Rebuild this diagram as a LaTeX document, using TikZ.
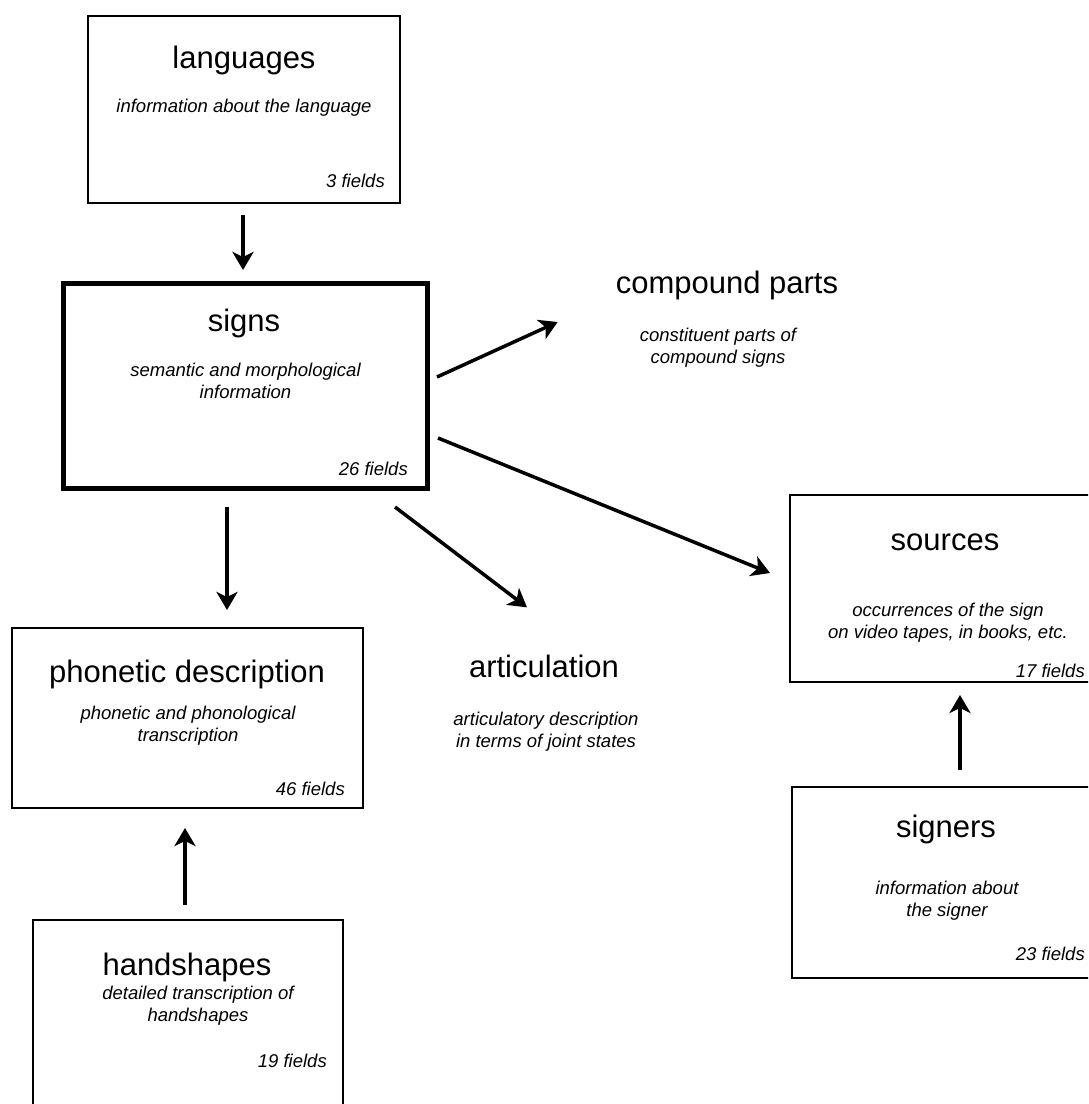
\documentclass[tikz,border=0pt]{standalone}
\usepackage{fontspec}
\setmainfont{Liberation Sans}
\usetikzlibrary{arrows.meta}
\usetikzlibrary{positioning}
\tikzset{>={Stealth[length=18pt,width=21pt,inset=5pt]}}
\tikzset{
  tablebox/.style={draw, line width=2.6pt, inner sep=0pt},
  title/.style={font=\fontsize{31}{36}\selectfont, anchor=base, inner sep=0pt},
  descr/.style={font=\itshape\fontsize{18.5}{21.5}\selectfont, align=center, anchor=north, inner sep=0pt},
  count/.style={font=\itshape\fontsize{18.5}{21.5}\selectfont, anchor=base east, inner sep=0pt},
  flow/.style={->, line width=3.5pt}
}

\begin{document}
\begin{tikzpicture}[x=1pt, y=-1pt]
    \useasboundingbox (0,0) rectangle (1088,1104);
    \fill[white] (0,0) rectangle (1088,1104);
    \clip (0,0) rectangle (1088,1104);

    % Draw the tables.
    \node[tablebox, minimum width=312, minimum height=187] (lang) at (244,109.5) {};
    \node[tablebox, line width=5pt, minimum width=364, minimum height=205] (signs) at (245,385.5) {};
    \node[tablebox, minimum width=351, minimum height=180] (phon) at (187.5,718) {};
    \node[tablebox, minimum width=310, minimum height=190] (hand) at (188,1015) {};
    \node[tablebox, minimum width=310, minimum height=187] (src) at (945,588.5) {};
    \node[tablebox, minimum width=308, minimum height=191] (signers) at (946,882.5) {};

    % Write the table names, contents and field counts.
    \node[title] (langtitle) at (244,68) {languages};
    \node[descr] (langdesc) at (244,99) {information about the language};
    \node[count] (langcount) at (385,187) {3 fields};

    \node[title] (signstitle) at (244,331) {signs};
    \node[descr] (signsdesc) at (245.5,363) {semantic and morphological\\information};
    \node[count] (signscount) at (408,475) {26 fields};

    \node[title] (phontitle) at (187,682) {phonetic description};
    \node[descr] (phondesc) at (188,706) {phonetic and phonological\\transcription};
    \node[count] (phoncount) at (345,795) {46 fields};

    \node[title] (handtitle) at (187,975) {handshapes};
    \node[descr] (handdesc) at (198,986) {detailed transcription of\\handshapes};
    \node[count] (handcount) at (327,1067) {19 fields};

    \node[title] (srctitle) at (945,550) {sources};
    \node[descr] (srcdesc) at (948,603) {occurrences of the sign\\on video tapes, in books, etc.};
    \node[count] (srccount) at (1085,677) {17 fields};

    \node[title] (signerstitle) at (946,837) {signers};
    \node[descr] (signersdesc) at (947,881) {information about\\the signer};
    \node[count] (signerscount) at (1085,960) {23 fields};

    % Parts without a box of their own.
    \node[title] (cpd) at (727,293) {compound parts};
    \node[descr] (cpddesc) at (718,328) {constituent parts of\\compound signs};

    \node[title] (artic) at (544,677) {articulation};
    \node[descr] (articdesc) at (546,712) {articulatory description\\in terms of joint states};

    % Draw the links.
    \draw[flow, shorten <=11pt, shorten >=10.5pt] ([xshift=-1pt]lang.south) -- ([xshift=-2pt]signs.north);
    \draw[flow, shorten <=16.5pt, shorten >=16.7pt] ([xshift=-18pt]signs.south) -- ([xshift=-18pt]signs.south |- phon.north);
    \draw[flow, shorten <=13.7pt, shorten >=18.7pt] ([xshift=-3pt]hand.north) -- ([xshift=-3pt]hand.north |- phon.south);
    \draw[flow, shorten <=15.7pt, shorten >=11.7pt] ([xshift=14pt]signers.north) -- ([xshift=14pt]signers.north |- src.south);
    \draw[flow] ([xshift=7.5pt, yshift=8.5pt]signs.east) -- ([xshift=-58pt, yshift=-29pt]cpd.base west);
    \draw[flow] ([xshift=8.5pt, yshift=-52.5pt]signs.east) -- ([xshift=-18.7pt, yshift=15.5pt]src.west);
    \draw[flow] ([xshift=-34.5pt, yshift=-16.5pt]signs.south east) -- ([xshift=-17pt, yshift=47pt]artic.north);
\end{tikzpicture}
\end{document}
